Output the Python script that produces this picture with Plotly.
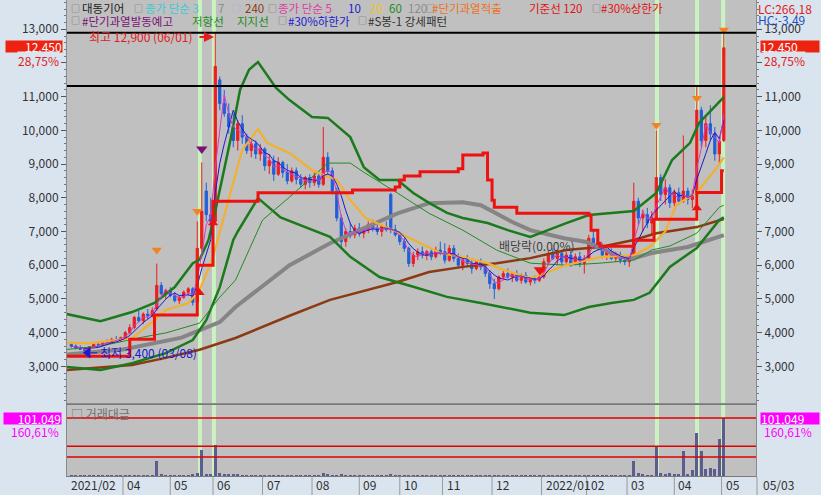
import pandas as pd
import plotly.graph_objects as go

# ---------------- data ----------------
day_idx = list(range(1, 292, 2))   # trading-day index (2-day candles)

open_ = [3650,3600,3550,3500,3450,3580,3650,3620,3720,3700,
         3800,3780,3850,4000,4150,4450,4350,4550,4500,4700,
         5400,5150,5250,5100,4950,5050,5200,5300,4900,6500,
         8200,7500,7300,11500,10800,10500,10100,9700,10200,9800,
         9400,9600,9300,9450,8950,9100,8700,9050,8750,8500,
         8800,8550,8400,8600,8450,8650,8400,9200,8800,8200,
         7400,6700,7000,6900,7100,6950,7050,7200,7100,7000,
         7150,8100,7050,6900,6700,6500,6050,6300,6400,6300,
         6400,6250,6450,6400,6150,6500,6200,6000,6150,6050,
         5900,6100,5950,5750,5450,5300,5650,5750,5650,5750,
         5550,5700,5500,5600,5550,5650,6100,6350,6200,6350,
         6100,6300,6050,6250,6050,6200,6800,6650,6550,6300,
         6400,6200,6300,6150,6100,6200,7900,7400,7500,7250,
         7400,8600,8100,8300,7850,8150,7900,8200,7950,8100,
         10600,9700,10200,9900,9300,9700]
high = [3700,3650,3620,3560,3600,3680,3700,3750,3800,3850,
        3900,3880,4050,4250,4500,4650,4600,4700,4750,6050,
        5500,5300,5350,5200,5100,5250,5350,5350,7300,9050,
        8450,8000,12900,11600,11200,10800,10500,10300,10450,9900,
        9700,9700,9600,9500,9300,9250,9200,9100,9000,8900,
        8900,8700,8650,8700,8750,8800,10100,9350,8900,8300,
        7500,7100,7250,7200,7250,7150,7300,7350,7250,7200,
        7300,8150,7200,7000,6800,6550,6400,6500,6550,6450,
        6500,6550,6700,6650,6600,6600,6350,6250,6300,6200,
        6150,6200,6050,5850,5600,5700,5850,5900,5800,5850,
        5750,5800,5650,5700,5700,6200,6450,6500,6450,6450,
        6400,6450,6350,6400,6300,6900,7050,6850,6650,6500,
        6500,6400,6400,6300,6250,8450,8000,7650,7700,7600,
        10000,8700,8550,8400,8250,8300,9850,8300,8250,11300,
        10700,10400,10750,10100,9800,12900]
low = [3550,3500,3480,3400,3420,3550,3580,3600,3680,3680,
       3750,3720,3820,3950,4100,4300,4250,4400,4450,4650,
       5100,5000,5050,4900,4850,5000,5100,4800,4800,6400,
       7300,7100,7200,10600,10400,9900,9500,9400,9600,9300,
       9200,9150,9100,8800,8700,8500,8650,8600,8400,8450,
       8400,8300,8250,8300,8350,8300,8350,8700,8100,7300,
       6500,6550,6800,6800,6850,6800,6950,7000,6900,6850,
       7000,6950,6850,6600,6400,5950,5950,6150,6200,6150,
       6150,6200,6300,6050,6100,6100,5900,5850,5950,5750,
       5850,5850,5650,5300,5000,5250,5550,5600,5500,5500,
       5450,5450,5400,5450,5500,5600,6000,6150,6000,6000,
       6050,5950,6000,5950,5750,6150,6550,6450,6200,6150,
       6150,6100,6050,6000,5950,6150,7200,7000,7100,6900,
       7350,7900,7800,7700,7750,7800,7850,7800,7700,8000,
       9500,9500,9700,9100,9000,9650]
close = [3600,3550,3500,3450,3580,3650,3620,3720,3700,3800,
         3780,3850,4000,4150,4450,4350,4550,4500,4650,5400,
         5150,5250,5100,4950,5050,5200,5300,4900,6500,7600,
         7500,7300,11900,10800,10500,10100,9700,10200,9800,9400,
         9600,9300,9450,8950,9100,8700,9050,8750,8500,8800,
         8550,8400,8600,8450,8650,8400,9200,8800,8200,7400,
         6700,7000,6900,7100,6950,7050,7200,7100,7000,7150,
         7050,7050,6900,6700,6500,6050,6300,6400,6300,6400,
         6250,6450,6400,6150,6500,6200,6000,6150,6050,5900,
         6100,5950,5750,5450,5300,5650,5750,5650,5750,5550,
         5700,5500,5600,5550,5650,6100,6350,6200,6350,6100,
         6300,6050,6250,6050,6200,6800,6650,6550,6300,6400,
         6200,6300,6150,6100,6200,7900,7400,7500,7250,7400,
         8600,8100,8300,7850,8150,7900,8200,7950,8100,10600,
         9700,10200,9900,9300,9670,12450]
volume = [900,700,600,800,700,600,500,700,800,600,
          700,900,1500,1200,1000,900,800,1100,900,27000,
          3000,1500,1000,800,700,900,1200,3500,6000,45000,
          4000,3000,54000,6000,3500,2500,2000,2500,1500,1200,
          1500,1000,900,800,700,800,600,500,500,600,
          500,400,500,400,500,600,5000,2500,1500,1500,
          2000,1000,700,600,500,500,400,500,400,500,
          500,2000,800,600,700,500,400,400,500,400,
          400,500,400,400,500,400,400,500,400,400,
          500,500,400,600,700,500,400,400,500,400,
          400,500,400,600,500,400,500,400,500,400,
          500,400,500,400,500,600,500,400,500,400,
          400,500,400,1200,800,26000,5000,2000,1500,1200,
          50500,5000,3000,5500,2000,2500,43000,3000,10000,75000,
          43000,12000,14000,12000,64000,101049]

band_up_x = [-1,14,28,38,47,55,58,62,65,68,72,76,80,84,92,98,108,115,125,131,138,146,153,160,168,175,186,195,205,221,231,251,261,268,276,280,289,291]
band_up_y = [4550,4340,4610,4880,5350,6060,6160,6750,7600,8500,9800,11200,11800,12030,11260,10900,10400,10370,9800,8910,8530,8530,8140,7850,7550,7400,7250,7040,6840,7250,7490,7610,8140,9120,9630,10220,10840,10990]
band_lo_x = [-1,14,28,43,55,61,67,73,75,84,94,116,125,138,153,168,183,195,205,220,231,241,251,258,267,279,289,291]
band_lo_y = [2980,2890,3090,3390,3780,4370,5350,6750,7000,7990,7420,6840,6250,5650,5360,5060,4880,4730,4590,4520,4760,4880,4970,5180,5950,6510,7340,7420]
ma20_x = [-1,8,28,38,43,53,58,64,70,73,77,84,88,98,108,119,125,132,146,156,165,175,186,193,205,209,221,230,236,251,258,265,270,279,288,291]
ma20_y = [3700,3680,3830,4370,4670,4870,5260,6240,7720,8440,9420,10040,9630,9330,8820,8530,7930,7390,6980,6660,6360,6240,6060,5860,5620,5700,6000,6150,6240,6300,6540,7000,7800,8150,8900,9200]
ma60_x = [-1,14,33,43,58,67,74,86,98,108,115,125,131,146,160,175,190,205,221,236,251,259,267,279,289,291]
ma60_y = [3500,3600,3870,3990,4280,5050,5560,7340,8020,8610,9030,9030,8760,8140,7540,7040,6450,6060,6000,6060,6150,6450,6570,6950,7720,7780]
ma120_x = [-1,24,50,58,67,74,98,116,131,146,160,175,183,190,197,205,220,230,245,251,259,275,289,291]
ma120_y = [3350,3500,3850,4080,4310,4760,6000,6650,7100,7540,7840,7870,7780,7540,7280,7040,6800,6690,6250,6210,6360,6540,6840,6890]
ma240_x = [-1,28,43,58,74,98,116,146,160,175,190,205,221,236,251,261,279,289,291]
ma240_y = [2890,3040,3250,3490,3840,4500,4970,5500,5800,5950,6060,6210,6450,6540,6750,6950,7130,7340,7370]
base_x = [-1,27,38,57,64,84,126,145,147,149,156,173,175,184,186,188,189,199,231,232,235,236,251,260,279,290,291]
base_y = [3300,3800,4520,6000,7900,8150,8230,8320,8530,8650,8770,8860,9270,9330,8530,7930,7720,7540,7480,7040,6650,6560,6740,7360,8160,8800,8800]

hi_line, mid_line = 12900, 11320
low_price, low_day = 3400, 8.4
vol_lines = [101049, 52000, 33000]
signal_days = [58.2, 64.4, 261.3, 279.1, 290.7]
month_idx = [-0.89, 24, 45, 64, 86, 108, 129, 147, 166, 188, 210, 230, 248, 269, 290]
month_lbl = ['2021/02', '04', '05', '06', '07', '08', '09', '10', '11', '12', '2022/01', '02', '03', '04', '05']

# ---------------- geometry helpers ----------------
PL, PR, PB = 67, 756, 476
def px(x): return (x - PL) / (PR - PL)
def py(y): return (PB - y) / PB

X_RANGE = [-0.89, 305.3]
Y_MAIN = [1911, 13869]
VOL_RANGE = [0, 123700]
FONT = 'Noto Sans CJK KR, Noto Sans, sans-serif'

fig = go.Figure()

def line(x, y, color, width, shape='linear'):
    fig.add_trace(go.Scatter(x=x, y=y, mode='lines', hoverinfo='skip',
                             line=dict(color=color, width=width, shape=shape),
                             xaxis='x', yaxis='y'))

line(ma240_x, ma240_y, '#8b3a12', 2.5)
line(ma120_x, ma120_y, '#858585', 4)
line(band_up_x, band_up_y, '#1b7a1b', 2.5)
line(band_lo_x, band_lo_y, '#1b7a1b', 2.5)
line(ma60_x, ma60_y, '#228b22', 1)
line(ma20_x, ma20_y, '#f2b02e', 2.2)
cs = pd.Series(close)
line(day_idx, cs.rolling(5, min_periods=1).mean().round(0).tolist(), '#1a1ad0', 1)
line(day_idx, cs.rolling(3, min_periods=1).mean().round(0).tolist(), '#d23cc8', 1)
line(base_x, base_y, '#ee1111', 3, 'hv')

fig.add_trace(go.Candlestick(
    x=day_idx, open=open_, high=high, low=low, close=close,
    increasing=dict(line=dict(color='#ee1c1c', width=1), fillcolor='#ee1c1c'),
    decreasing=dict(line=dict(color='#1e5fd8', width=1), fillcolor='#1e5fd8'),
    whiskerwidth=0, hoverinfo='skip', xaxis='x', yaxis='y'))

def mark(x, y, sym, color, size):
    fig.add_trace(go.Scatter(x=x, y=y, mode='markers', hoverinfo='skip',
                             marker=dict(symbol=sym, color=color, size=size),
                             xaxis='x', yaxis='y'))

mark([39, 57, 261, 279, 291], [6450, 7600, 10150, 10950, 12980], 'triangle-down', '#f58220', 9)
mark([59], [9450], 'triangle-down', '#7a107a', 10)
mark([58, 64, 279], [5180, 7250, 7700], 'triangle-up', '#ee1111', 9)
mark([209.3], [5860], 'triangle-down', '#ee1111', 11)
mark([low_day], [low_price], 'triangle-left', '#1a1ad0', 10)

fig.add_trace(go.Bar(x=day_idx, y=volume, width=1.3, hoverinfo='skip',
                     marker=dict(color='#5c5c8e', line=dict(width=0)),
                     xaxis='x2', yaxis='y2'))

shapes = []
for d in signal_days:
    shapes.append(dict(type='line', xref='x', yref='y', x0=d, x1=d, y0=Y_MAIN[0], y1=Y_MAIN[1],
                       line=dict(color='#c9f3bf', width=4), layer='below'))
    shapes.append(dict(type='line', xref='x2', yref='y2', x0=d, x1=d, y0=VOL_RANGE[0], y1=VOL_RANGE[1],
                       line=dict(color='#c9f3bf', width=4), layer='below'))
for v in (hi_line, mid_line):
    shapes.append(dict(type='line', xref='x', yref='y', x0=X_RANGE[0], x1=X_RANGE[1], y0=v, y1=v,
                       line=dict(color='#000000', width=2)))
for v in vol_lines:
    shapes.append(dict(type='line', xref='x2', yref='y2', x0=X_RANGE[0], x1=X_RANGE[1], y0=v, y1=v,
                       line=dict(color='#e00000', width=1.5)))
for m in month_idx[1:]:
    shapes.append(dict(type='line', xref='x2', yref='paper', x0=m, x1=m, y0=py(495), y1=py(477),
                       line=dict(color='#9a9a9a', width=1)))
shapes.append(dict(type='line', xref='paper', yref='paper', x0=px(757), x1=px(757), y0=py(495), y1=py(477),
                   line=dict(color='#9a9a9a', width=1)))
# short leader between the low-price arrow and its label
shapes.append(dict(type='line', xref='x', yref='y', x0=low_day + 1.2, x1=low_day + 4.2,
                   y0=low_price, y1=low_price, line=dict(color='#1a1ad0', width=1)))

ann = []
def txt(x, y, s, color, size=12, anchor='left', bg=None, w=None, h=None, align=None):
    a = dict(xref='paper', yref='paper', x=px(x), y=py(y), text=s, showarrow=False,
             xanchor=anchor, yanchor='middle', font=dict(family=FONT, size=size, color=color),
             borderpad=0)
    if bg:
        a['bgcolor'] = bg
    if w:
        a['width'] = w
    if h:
        a['height'] = h
    if align:
        a['align'] = align
    ann.append(a)

BOX = '#6a6a6a'
legend1 = [(70, '□', BOX), (81, '대동기어', '#202020'), (133, '□', BOX), (144, '종가 단순 3', '#3ec8d2'),
           (217, '7', '#8c8c8c'), (231, '□', '#b2a4d8'), (244, '240', '#8b3a12'), (267, '□', BOX),
           (277, '종가 단순 5', '#de3ca6'), (347, '10', '#1a1ad0'), (369, '20', '#f0c020'),
           (388, '60', '#228b22'), (407, '120', '#8c8c8c'), (425, '□', BOX),
           (431, '#단기과열적출', '#f07020'), (528, '기준선 120', '#e01010'), (591, '□', BOX),
           (600, '#30%상한가', '#e01010')]
legend2 = [(70, '□', BOX), (81, '#단기과열발동예고', '#7a107a'), (191, '저항선', '#1b8a1b'),
           (236, '지지선', '#1b8a1b'), (277, '□', BOX), (287, '#30%하한가', '#1a1ad0'),
           (357, '□', BOX), (367, '#S봉-1 강세패턴', '#303030')]
for x, s, c in legend1:
    txt(x, 8, s, c, size=9 if s == '□' else 11.5)
for x, s, c in legend2:
    txt(x, 21, s, c, size=9 if s == '□' else 11.5)

txt(757, 8, 'LC:266,18', '#e02020')
txt(757, 20, 'HC:-3,49', '#2050c0')
txt(63, 47, '12,450', '#ffffff', bg='#ee2211', w=56, h=11, anchor='right', align='right')
txt(760, 47, '12,450', '#ffffff', bg='#ee2211', w=58, h=11, anchor='left', align='left')
txt(60, 60, '28,75%', '#e02020', anchor='right', bg='#dae4ef')
txt(763, 60, '28,75%', '#e02020', anchor='left', bg='#dae4ef')
txt(62, 418, '101,049', '#ffffff', bg='#ff00ff', w=57, h=11, anchor='right', align='right')
txt(760, 418, '101,049', '#ffffff', bg='#ff00ff', w=58, h=11, anchor='left', align='left')
txt(60, 431, '160,61%', '#ff00ff', anchor='right')
txt(763, 431, '160,61%', '#ff00ff', anchor='left')
txt(70, 413, '□ 거래대금', '#707070')
txt(88, 37, '최고 12,900 (06/01)', '#e02020')
txt(99, 352, '최저 3,400 (03/08)', '#1a1ad0')
txt(498, 246, '배당락(0.00%)', '#404040')
txt(762, 485, '05/03', '#303030')
ann.append(dict(xref='paper', yref='paper', x=px(214), y=py(37), ax=-16, ay=0, text='',
                showarrow=True, arrowhead=2, arrowsize=1, arrowwidth=2, arrowcolor='#e02020'))
for m, s in zip(month_idx, month_lbl):
    ann.append(dict(xref='x2', yref='paper', x=m, y=py(485), text=s, showarrow=False,
                    xanchor='left', yanchor='middle', xshift=2,
                    font=dict(family=FONT, size=12, color='#303030')))

tickfont = dict(family=FONT, size=12, color='#333333')
yticks = list(range(3000, 14000, 1000))
fig.update_layout(
    width=821, height=495, margin=dict(l=PL, r=821 - PR, t=0, b=495 - PB),
    paper_bgcolor='#dae4ef', plot_bgcolor='#c0c0c0', showlegend=False,
    separators='.,', shapes=shapes, annotations=ann,
    xaxis=dict(domain=[0, 1], range=X_RANGE, anchor='y', showticklabels=False, showgrid=False,
               zeroline=False, rangeslider=dict(visible=False), showline=True,
               linecolor='#8a8a8a', mirror=True, ticks=''),
    yaxis=dict(domain=[py(403), 1], range=Y_MAIN, side='left', tickvals=yticks, tickformat=',d',
               ticks='outside', ticklen=5, tickcolor='#555555', tickfont=tickfont, showgrid=False,
               zeroline=False, showline=True, linecolor='#8a8a8a',
               minor=dict(tickmode='linear', tick0=0, dtick=200, ticks='outside', ticklen=2,
                          tickcolor='#777777')),
    yaxis3=dict(overlaying='y', anchor='x', side='right', range=Y_MAIN, tickvals=yticks,
                tickformat=',d', ticks='outside', ticklen=5, tickcolor='#555555', tickfont=tickfont,
                showgrid=False, zeroline=False, showline=True, linecolor='#8a8a8a',
                minor=dict(tickmode='linear', tick0=0, dtick=200, ticks='outside', ticklen=2,
                           tickcolor='#777777')),
    xaxis2=dict(domain=[0, 1], range=X_RANGE, anchor='y2', showticklabels=False, showgrid=False,
                zeroline=False, showline=True, linecolor='#7a7a7a', mirror=True, ticks=''),
    yaxis2=dict(domain=[0, py(405)], range=VOL_RANGE, showticklabels=False, showgrid=False,
                zeroline=False, showline=True, linecolor='#8a8a8a', mirror=True, ticks=''),
    bargap=0,
)
# invisible point so the right-hand price axis is drawn
fig.add_trace(go.Scatter(x=[day_idx[0]], y=[close[0]], mode='markers', marker=dict(opacity=0),
                         hoverinfo='skip', xaxis='x', yaxis='y3'))

fig.write_html('out.html', include_plotlyjs=True, config={'displayModeBar': False},
               post_script="document.body.style.margin='0';document.body.style.overflow='hidden';")
